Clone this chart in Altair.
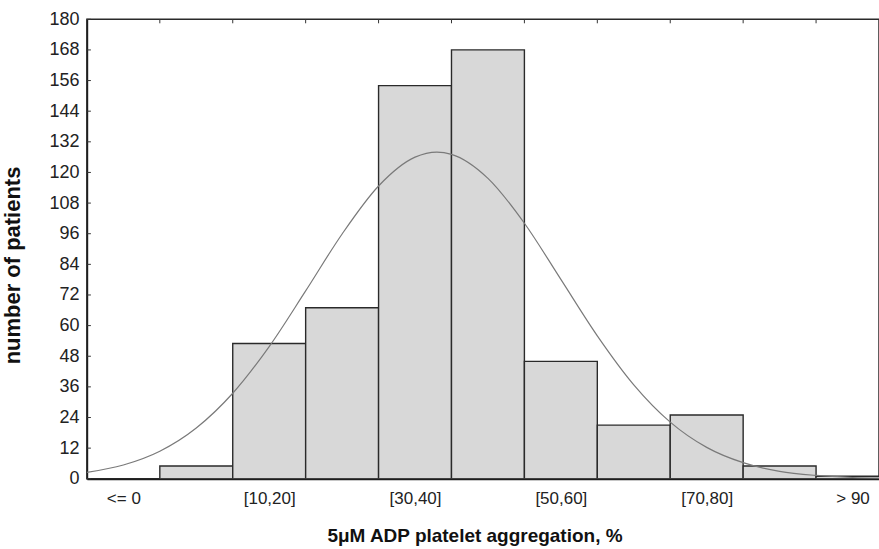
import altair as alt
import pandas as pd

# ---- data ----
bin_labels = ["<= 0", "(0,10]", "[10,20]", "(20,30]", "[30,40]", "(40,50]",
              "[50,60]", "(60,70]", "[70,80]", "(80,90]", "> 90"]
counts = [0, 5, 53, 67, 154, 168, 46, 21, 25, 5, 1]
axis_labels = ["<= 0", "[10,20]", "[30,40]", "[50,60]", "[70,80]", "> 90"]
y_ticks = [0, 12, 24, 36, 48, 60, 72, 84, 96, 108, 120, 132, 144, 156, 168, 180]

# fitted normal curve (aggregation %, patients)
curve_values = [-10, -5, 0, 5, 10, 15, 20, 25, 30, 35, 38, 40, 45, 50, 55, 60,
                65, 70, 75, 80, 85, 90, 95, 100]
curve_counts = [2.5, 5.4, 10.8, 19.9, 33.5, 51.8, 73.6, 95.9, 114.7, 126.0, 128.0,
                127.1, 117.7, 100.1, 78.1, 56.0, 36.8, 22.2, 12.3, 6.3, 2.9, 1.3,
                0.5, 0.2]

bars_df = pd.DataFrame({"bin": list(range(len(counts))), "label": bin_labels, "count": counts})
curve_df = pd.DataFrame({"value": curve_values, "fit": curve_counts})
ticks_df = pd.DataFrame({"tick": y_ticks})

FONT = "Liberation Sans"
PLOT_W = 793
PLOT_H = 460
BIN_PX = 73

xscale = alt.Scale(domain=[0, PLOT_W / BIN_PX], nice=False, zero=False)
yscale = alt.Scale(domain=[0, 180], nice=False, zero=True)

label_expr = "[" + ",".join("'" + l + "'" for l in axis_labels) + "][floor(datum.value / 2)]"
label_positions = [2 * i + 0.5 for i in range(len(axis_labels))]

base_bars = alt.Chart(bars_df).transform_calculate(
    x0="datum.bin", x1="datum.bin + 1", base="0"
)

bars = base_bars.mark_rect(
    fill="#d8d8d8", stroke="#2a2a2a", strokeWidth=1.4, clip=True
).encode(
    x=alt.X("x0:Q", scale=xscale, axis=alt.Axis(
        orient="bottom", values=label_positions, labelExpr=label_expr,
        ticks=False, tickSize=0, grid=False, domain=True, domainWidth=2,
        domainColor="#1e1e1e", labelFont=FONT, labelFontSize=17,
        labelColor="#222222", labelBaseline="alphabetic", labelPadding=25,
        labelFlush=False, labelOverlap=False,
        title="5μM ADP platelet aggregation, %", titleFont=FONT,
        titleFontSize=19, titleFontWeight="bold", titleColor="#111111",
        titleX=388, titleY=63, titleBaseline="alphabetic",
        titleAlign="center")),
    x2="x1:Q",
    y=alt.Y("count:Q", scale=yscale, axis=alt.Axis(
        orient="left", values=y_ticks, ticks=False, tickSize=0, grid=False,
        domain=True, domainWidth=1.6, domainColor="#1e1e1e",
        labelFont=FONT, labelFontSize=18, labelColor="#222222", labelPadding=8,
        labelOverlap=False, labelFlush=False, labelSeparation=0,
        title="number of patients", titleFont=FONT, titleFontSize=22,
        titleFontWeight="bold", titleColor="#111111",
        titleX=-62, titleY=246, titleAngle=270, titleBaseline="bottom",
        titleAlign="center")),
    y2="base:Q",
    tooltip=["label:N", "count:Q"],
)

top_ticks = base_bars.mark_rule(color="#333333", strokeWidth=1).encode(
    x=alt.X("x1:Q", scale=xscale, axis=None),
    y=alt.value(0),
    y2=alt.value(4),
)

left_ticks = alt.Chart(ticks_df).mark_rule(color="#333333", strokeWidth=1).encode(
    y=alt.Y("tick:Q", scale=yscale, axis=None),
    x=alt.value(0),
    x2=alt.value(4),
)

curve = alt.Chart(curve_df).transform_calculate(
    pos="1 + datum.value / 10"
).mark_line(color="#7a7a7a", strokeWidth=1.2, interpolate="monotone", clip=True).encode(
    x=alt.X("pos:Q", scale=xscale, axis=None),
    y=alt.Y("fit:Q", scale=yscale, axis=None),
)

chart = alt.layer(bars, curve, top_ticks, left_ticks).resolve_axis(
    x="independent", y="independent"
).properties(
    width=PLOT_W,
    height=PLOT_H,
    padding={"left": 87, "top": 19, "right": 0, "bottom": 70},
    autosize=alt.AutoSizeParams(type="none"),
    background="white",
).configure_view(
    stroke="#2a2a2a", strokeWidth=1.5
)

chart.save("out.html", embed_options={"renderer": "svg", "actions": False})
